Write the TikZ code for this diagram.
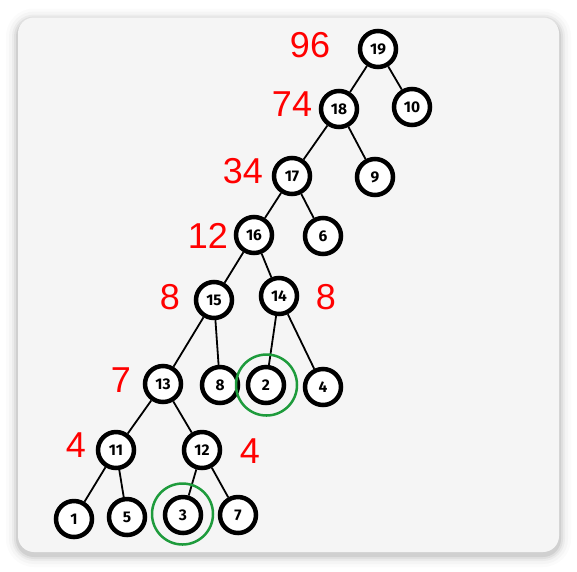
\documentclass[tikz,border=0pt]{standalone}
\usepackage{fontspec}
\newfontfamily\costfont{Liberation Sans}
\newfontfamily\keyfont{Fira Sans}
\definecolor{PanelGray}{HTML}{f5f5f5}
\definecolor{CostRed}{HTML}{ff0000}
\definecolor{RingGreen}{HTML}{1e9b3c}
\usepackage{tikz}
\usetikzlibrary{positioning, calc}
\usepackage{xcolor}

\tikzset{
  key/.style={circle, draw=black, line width=4.5pt, fill=white, minimum size=36pt,
              inner sep=0pt, font=\keyfont\bfseries\fontsize{15.5}{15.5}\selectfont},
  cost/.style={text=CostRed, inner sep=0pt, font=\costfont\fontsize{36}{36}\selectfont},
  ring/.style={circle, draw=RingGreen, line width=2.5pt, minimum size=61pt, inner sep=0pt},
  edge/.style={draw=black, line width=1.8pt}
}

\begin{document}
\begin{tikzpicture}[x=1pt, y=-1pt]
  \useasboundingbox (0,0) rectangle (577,571);

  % panel with soft shadow
  \foreach \s/\o/\r in {12/0.015/28pt, 9/0.025/25pt, 6/0.035/22pt, 4/0.05/20pt, 2/0.07/18pt}
    \fill[black, opacity=\o, rounded corners=\r] (18-\s,17.5-\s+3) rectangle (559+\s,552+\s+3);
  \fill[PanelGray, rounded corners=16pt] (18,17.5) rectangle (559,552);

  % tree
  \node[key] (n19) at (378,49)  {19};
  \node[key] (n18) at (339,109) {18};
  \node[key] (n10) at (412,107) {10};
  \node[key] (n17) at (292,176) {17};
  \node[key] (n9)  at (375,177) {9};
  \node[key] (n16) at (254,235) {16};
  \node[key] (n6)  at (323,236) {6};
  \node[key] (n15) at (214,300) {15};
  \node[key] (n14) at (279,296) {14};
  \node[key] (n13) at (163,384) {13};
  \node[key] (n8)  at (220,385) {8};
  \node[key] (n2)  at (266,385) {2};
  \node[key] (n4)  at (323,387) {4};
  \node[key] (n11) at (116,450) {11};
  \node[key] (n12) at (202,450) {12};
  \node[key] (n1)  at (74,519)  {1};
  \node[key] (n5)  at (127,517) {5};
  \node[key] (n3)  at (183,515) {3};
  \node[key] (n7)  at (238,515) {7};

  \foreach \a/\b in {19/18, 19/10, 18/17, 18/9, 17/16, 17/6, 16/15, 16/14,
                     15/13, 15/8, 14/2, 14/4, 13/11, 13/12, 11/1, 11/5, 12/3, 12/7}
    \draw[edge] (n\a) -- (n\b);

  % picked leaves
  \node[ring] (r2) at (266.5,385) {};
  \node[ring] (r3) at (182.5,514) {};

  % weights
  \node[cost] (c19) at (310,45)  {96};
  \node[cost] (c18) at (292,104) {74};
  \node[cost] (c17) at (243,171) {34};
  \node[cost] (c16) at (208,236) {12};
  \node[cost] (c15) at (170,297) {8};
  \node[cost] (c14) at (326,297) {8};
  \node[cost] (c13) at (121,380) {7};
  \node[cost] (c11) at (76,445)  {4};
  \node[cost] (c12) at (250,451) {4};
\end{tikzpicture}
\end{document}
